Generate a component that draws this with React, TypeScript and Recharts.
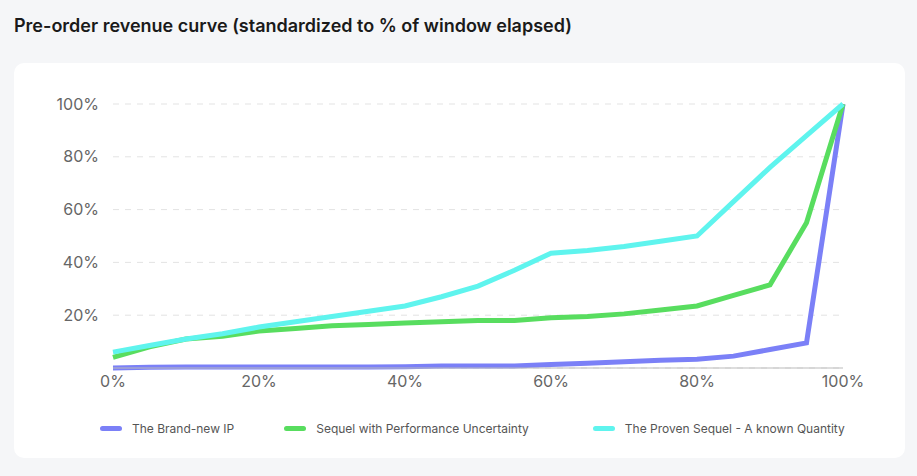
import React from "react";
import { LineChart, Line, XAxis, YAxis, CartesianGrid } from "recharts";

const elapsed = [0, 5, 10, 15, 20, 25, 30, 35, 40, 45, 50, 55, 60, 65, 70, 75, 80, 85, 90, 95, 100];
const brandNew = [0, 0.3, 0.4, 0.4, 0.4, 0.4, 0.4, 0.4, 0.5, 0.8, 0.8, 0.8, 1.3, 1.8, 2.4, 2.9, 3.3, 4.5, 7, 9.5, 100];
const uncertain = [4, 8, 11, 12, 14, 15, 16, 16.5, 17, 17.5, 18, 18, 19, 19.5, 20.5, 22, 23.5, 27.5, 31.5, 55, 100];
const proven = [6, 8.5, 11, 13, 15.5, 17.5, 19.5, 21.5, 23.5, 27, 31, 37, 43.5, 44.5, 46, 48, 50, 63, 76, 88, 100];
const xTicks = [0, 20, 40, 60, 80, 100];
const yTicks = [0, 20, 40, 60, 80, 100];

const seriesNames = ["The Brand-new IP", "Sequel with Performance Uncertainty", "The Proven Sequel - A known Quantity"];
const seriesKeys = ["brandNew", "uncertain", "proven"];
const seriesColors = ["#7b80f7", "#58dd5f", "#5ff4ee"];

const data = elapsed.map((x, i) => ({
  x,
  brandNew: brandNew[i],
  uncertain: uncertain[i],
  proven: proven[i],
}));

const FONT = "Inter, 'Open Sans', sans-serif";

export default function App() {
  return (
    <div style={{ position: "absolute", left: 0, top: 0, width: 917, height: 476, background: "#f5f6f8", fontFamily: FONT }}>
      <div style={{ position: "absolute", left: 14, top: 15, fontSize: 18, fontWeight: 600, color: "#1a1a1a" }}>
        Pre-order revenue curve (standardized to % of window elapsed)
      </div>
      <div style={{ position: "absolute", left: 14, top: 63, width: 891, height: 395, background: "#fff", borderRadius: 10 }}>
        <LineChart width={891} height={340} data={data} margin={{ top: 41, right: 62, left: 0, bottom: 5 }}>
          <CartesianGrid horizontal vertical={false} stroke="#e3e3e3" strokeDasharray="6 6" />
          <XAxis
            dataKey="x"
            type="number"
            domain={[0, 100]}
            ticks={xTicks}
            tickFormatter={(v) => `${v}%`}
            stroke="#bbb"
            tickLine={false}
            tick={{ fill: "#666", fontSize: 16 }}
            height={30}
          />
          <YAxis
            domain={[0, 100]}
            ticks={yTicks}
            tickFormatter={(v) => (v === 0 ? "" : `${v}%`)}
            axisLine={false}
            tickLine={false}
            tick={{ fill: "#666", fontSize: 16, dx: -6 }}
            width={99}
          />
          {seriesKeys.map((k, i) => (
            <Line key={k} dataKey={k} name={seriesNames[i]} stroke={seriesColors[i]} strokeWidth={5} dot={false} isAnimationActive={false} />
          ))}
        </LineChart>
        <div style={{ position: "absolute", left: 86, top: 358, display: "flex", fontSize: 12, color: "#555" }}>
          {seriesNames.map((n, i) => (
            <div key={n} style={{ display: "flex", alignItems: "center", marginRight: [50, 64, 0][i] }}>
              <span style={{ display: "inline-block", width: 22, height: 5, borderRadius: 3, background: seriesColors[i], marginRight: 10 }} />
              {n}
            </div>
          ))}
        </div>
      </div>
    </div>
  );
}
